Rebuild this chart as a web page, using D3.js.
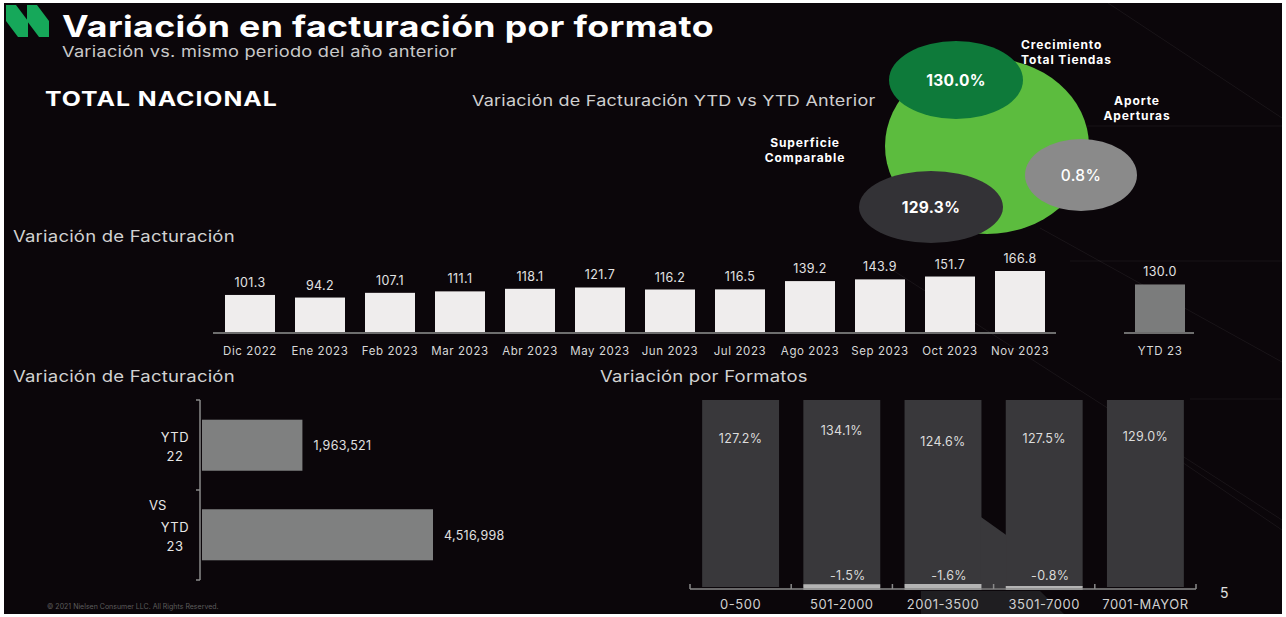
<!DOCTYPE html>
<html lang="es">
<head>
<meta charset="UTF-8">
<title>Variación en facturación por formato</title>
<script src="https://d3js.org/d3.v7.min.js"></script>
<style>
  html, body { margin: 0; padding: 0; background: #ffffff; }
  svg { display: block; font-family: "Inter", "Open Sans", sans-serif; }
</style>
</head>
<body>
<svg id="chart" width="1286" height="617"></svg>
<script>
// ---- data ----
const months = ["Dic 2022", "Ene 2023", "Feb 2023", "Mar 2023", "Abr 2023", "May 2023",
                "Jun 2023", "Jul 2023", "Ago 2023", "Sep 2023", "Oct 2023", "Nov 2023"];
const monthValues = [101.3, 94.2, 107.1, 111.1, 118.1, 121.7, 116.2, 116.5, 139.2, 143.9, 151.7, 166.8];
const ytdLabel = "YTD 23";
const ytdValue = 130.0;

const bubbleNames = [["Crecimiento", "Total Tiendas"], ["Superficie", "Comparable"], ["Aporte", "Aperturas"]];
const bubbleValues = [130.0, 129.3, 0.8];

const ytdCats = ["YTD 22", "YTD 23"];
const ytdSales = [1963521, 4516998];

const formats = ["0-500", "501-2000", "2001-3500", "3501-7000", "7001-MAYOR"];
const formatGrowth = [127.2, 134.1, 124.6, 127.5, 129.0];
const formatApertura = [null, -1.5, -1.6, -0.8, null];

const svg = d3.select("#chart");

// headings: the slide font is wider than Inter, so widen the glyphs to the slide's width
function heading(x, y, txt, size, weight, fill, width, spacing) {
  const t = svg.append("text").attr("fill", fill)
    .attr("font-size", size).attr("font-weight", weight)
    .attr("letter-spacing", spacing || 0).text(txt);
  const w = t.node().getComputedTextLength();
  t.attr("transform", `translate(${x},${y}) scale(${width / w},1)`);
  return t;
}

// slide background
svg.append("rect").attr("x", 4).attr("y", 3).attr("width", 1278).attr("height", 611).attr("fill", "#0b060a");

// faint decorative lines
const deco = svg.append("g").attr("stroke", "#ffffff").attr("stroke-opacity", 0.06).attr("stroke-width", 1);
[[1108, 3, 1282, 118], [1040, 228, 1282, 362], [880, 262, 1282, 520], [1120, 420, 1282, 530],
 [1060, 126, 1282, 126], [1070, 261, 1282, 261], [1190, 399, 1282, 399]].forEach(l => {
  deco.append("line").attr("x1", l[0]).attr("y1", l[1]).attr("x2", l[2]).attr("y2", l[3]);
});

// logo
const logo = svg.append("g").attr("fill", "#16a85a");
logo.append("polygon").attr("points", "6,5 16,5 28,21 28,37 18,37 6,21");
logo.append("polygon").attr("points", "27,5 37,5 49,21 49,37 39,37 27,21");

// titles
heading(62, 37, "Variación en facturación por formato", 29.5, 700, "#ffffff", 652, 0.3);
heading(62, 57, "Variación vs. mismo periodo del año anterior", 15, 400, "#c9c9c9", 395, 0.2);
heading(45, 106, "TOTAL NACIONAL", 20, 700, "#ffffff", 233, 0.8);
heading(472, 106, "Variación de Facturación YTD vs YTD Anterior", 15, 400, "#cfcfcf", 404, 0.2);

// ---- bubbles ----
const bub = svg.append("g");
bub.append("ellipse").attr("cx", 987).attr("cy", 146).attr("rx", 102).attr("ry", 88).attr("fill", "#5cbc3e");
const bubbleShapes = [
  { cx: 956, cy: 80, rx: 67, ry: 39, fill: "#0e7a3a" },
  { cx: 931, cy: 207, rx: 72, ry: 36, fill: "#333236" },
  { cx: 1081, cy: 175, rx: 56, ry: 36, fill: "#8a8a8a" }
];
bub.selectAll("ellipse.b").data(bubbleValues).join("ellipse").attr("class", "b")
  .attr("cx", (d, i) => bubbleShapes[i].cx).attr("cy", (d, i) => bubbleShapes[i].cy)
  .attr("rx", (d, i) => bubbleShapes[i].rx).attr("ry", (d, i) => bubbleShapes[i].ry)
  .attr("fill", (d, i) => bubbleShapes[i].fill);
bub.selectAll("text.v").data(bubbleValues).join("text").attr("class", "v")
  .attr("x", (d, i) => bubbleShapes[i].cx).attr("y", (d, i) => bubbleShapes[i].cy + 6)
  .attr("text-anchor", "middle").attr("fill", "#ffffff")
  .attr("font-size", 15.5).attr("font-weight", (d, i) => i === 2 ? 500 : 700)
  .attr("letter-spacing", 0.3)
  .text(d => d.toFixed(1) + "%");
const nameSpots = [
  { x: 1021, y: 49, anchor: "start" },
  { x: 805, y: 147, anchor: "middle" },
  { x: 1137, y: 105, anchor: "middle" }
];
bubbleNames.forEach((words, i) => {
  const t = svg.append("text").attr("x", nameSpots[i].x).attr("y", nameSpots[i].y)
    .attr("text-anchor", nameSpots[i].anchor).attr("fill", "#ffffff")
    .attr("font-size", 12).attr("font-weight", 700).attr("letter-spacing", 0.9);
  words.forEach((w, j) => t.append("tspan").attr("x", nameSpots[i].x).attr("dy", j ? 15 : 0).text(w));
});

// ---- monthly bars ----
heading(13, 242, "Variación de Facturación", 16, 400, "#d2d2d2", 222, 0.2);

const slots = months.concat([" ", ytdLabel]);
const xm = d3.scalePoint().domain(slots).range([250, 1160]);
const ym = d3.scaleLinear().domain([0, 166.8]).range([332, 271]);
const barW = 50;
const monthly = months.map((m, i) => ({ m, v: monthValues[i], ytd: false }))
  .concat([{ m: ytdLabel, v: ytdValue, ytd: true }]);

const gm = svg.append("g");
gm.selectAll("rect").data(monthly).join("rect")
  .attr("x", d => xm(d.m) - barW / 2).attr("y", d => ym(d.v))
  .attr("width", barW).attr("height", d => ym(0) - ym(d.v))
  .attr("fill", d => d.ytd ? "#7b7c7c" : "#efeded");
gm.selectAll("text.val").data(monthly).join("text").attr("class", "val")
  .attr("x", d => xm(d.m)).attr("y", d => ym(d.v) - 8)
  .attr("text-anchor", "middle").attr("fill", "#e2e2e2").attr("font-size", 12.5)
  .attr("letter-spacing", 0.4)
  .text(d => d.v.toFixed(1));
gm.selectAll("text.cat").data(monthly).join("text").attr("class", "cat")
  .attr("x", d => xm(d.m)).attr("y", 355)
  .attr("text-anchor", "middle").attr("fill", "#d8d8d8").attr("font-size", 11.5)
  .attr("letter-spacing", 0.6)
  .text(d => d.m);
gm.append("line").attr("x1", xm(months[0]) - 37).attr("x2", xm(months[11]) + 36)
  .attr("y1", ym(0) + 1).attr("y2", ym(0) + 1).attr("stroke", "#6e6e6e").attr("stroke-width", 2);
gm.append("line").attr("x1", xm(ytdLabel) - 36).attr("x2", xm(ytdLabel) + 34)
  .attr("y1", ym(0) + 1).attr("y2", ym(0) + 1).attr("stroke", "#6e6e6e").attr("stroke-width", 2);

// ---- YTD horizontal bars ----
heading(13, 382, "Variación de Facturación", 16, 400, "#d2d2d2", 222, 0.2);

const yh = d3.scaleBand().domain(ytdCats).range([400, 580]).paddingInner(0.43).paddingOuter(0.22);
const xh = d3.scaleLinear().domain([0, d3.max(ytdSales)]).range([202, 433]);
const gh = svg.append("g");
gh.selectAll("rect").data(ytdCats).join("rect")
  .attr("x", xh(0)).attr("y", d => yh(d))
  .attr("width", (d, i) => xh(ytdSales[i]) - xh(0)).attr("height", yh.bandwidth())
  .attr("fill", "#7f8080");
gh.selectAll("text.val").data(ytdCats).join("text").attr("class", "val")
  .attr("x", (d, i) => xh(ytdSales[i]) + 11).attr("y", d => yh(d) + yh.bandwidth() / 2 + 5)
  .attr("fill", "#e0e0e0").attr("font-size", 12.5).attr("letter-spacing", 0.3)
  .text((d, i) => d3.format(",")(ytdSales[i]));
ytdCats.forEach(c => {
  const t = gh.append("text").attr("x", 175).attr("y", yh(c) + yh.bandwidth() / 2 - 3)
    .attr("text-anchor", "middle").attr("fill", "#e6e6e6").attr("font-size", 13).attr("letter-spacing", 0.6);
  c.split(" ").forEach((w, j) => t.append("tspan").attr("x", 175).attr("dy", j ? 19 : 0).text(w));
});
gh.append("text").attr("x", 149).attr("y", 510).attr("fill", "#e6e6e6").attr("font-size", 13).text("VS");
const axX = 200;
gh.append("line").attr("x1", axX).attr("x2", axX).attr("y1", 400).attr("y2", 580)
  .attr("stroke", "#8a8a8a").attr("stroke-width", 1.5);
[400, 490, 580].forEach(y => gh.append("line").attr("x1", axX - 4).attr("x2", axX).attr("y1", y).attr("y2", y)
  .attr("stroke", "#8a8a8a").attr("stroke-width", 1.5));

svg.append("text").attr("x", 47).attr("y", 609).attr("fill", "#5d5d5d").attr("font-size", 7)
  .text("© 2021 Nielsen Consumer LLC. All Rights Reserved.");

// ---- formats ----
heading(600, 382, "Variación por Formatos", 16, 400, "#d2d2d2", 208, 0.2);

// background slide shape under the axis
svg.append("polygon").attr("fill", "#1f1e21").attr("points", "921,591 1040,591 1064,614 921,614");

const xf = d3.scaleBand().domain(formats).range([690, 1196]).paddingInner(0.24).paddingOuter(0.12);
const yf = d3.scaleLinear().domain([0, 161]).range([587, 400]);
const gf = svg.append("g");
// columns (tracks)
gf.selectAll("rect.col").data(formats).join("rect").attr("class", "col")
  .attr("x", d => xf(d)).attr("y", yf(161)).attr("width", xf.bandwidth())
  .attr("height", yf(0) - yf(161)).attr("fill", "#39383b");
// slide decoration joining two columns
const x3 = xf(formats[2]) + xf.bandwidth(), x4 = xf(formats[3]);
gf.append("polygon").attr("fill", "#39383b")
  .attr("points", `${x3 - 0.5},517 ${x4 + 0.5},535 ${x4 + 0.5},588 ${x3 - 0.5},588`);

gf.selectAll("text.val").data(formats).join("text").attr("class", "val")
  .attr("x", d => xf(d) + xf.bandwidth() / 2).attr("y", (d, i) => yf(formatGrowth[i]) + 4)
  .attr("text-anchor", "middle").attr("fill", "#dcdcdc").attr("font-size", 12.5).attr("letter-spacing", 0.3)
  .text((d, i) => formatGrowth[i].toFixed(1) + "%");

const thick = d3.scaleLinear().domain([0, 1.6]).range([0, 4]);
const neg = formats.map((f, i) => ({ f, v: formatApertura[i] })).filter(d => d.v !== null);
gf.selectAll("rect.neg").data(neg).join("rect").attr("class", "neg")
  .attr("x", d => xf(d.f)).attr("y", d => 588 - thick(-d.v))
  .attr("width", xf.bandwidth()).attr("height", d => thick(-d.v) + 2).attr("fill", "#b4b4b4");
gf.selectAll("text.neg").data(neg).join("text").attr("class", "neg")
  .attr("x", d => xf(d.f) + xf.bandwidth() / 2 + 6).attr("y", 580)
  .attr("text-anchor", "middle").attr("fill", "#d8d8d8").attr("font-size", 12.5).attr("letter-spacing", 0.3)
  .text(d => d.v.toFixed(1) + "%");

gf.append("line").attr("x1", 690).attr("x2", 1196).attr("y1", 589).attr("y2", 589)
  .attr("stroke", "#8a8a8a").attr("stroke-width", 1.5);
const tickXs = [690].concat(formats.slice(1).map(f => xf(f) - xf.step() * xf.paddingInner() / 2), [1196]);
gf.selectAll("line.tick").data(tickXs).join("line").attr("class", "tick")
  .attr("x1", d => d).attr("x2", d => d).attr("y1", 584).attr("y2", 589)
  .attr("stroke", "#8a8a8a").attr("stroke-width", 1.5);
gf.selectAll("text.cat").data(formats).join("text").attr("class", "cat")
  .attr("x", d => xf(d) + xf.bandwidth() / 2).attr("y", 609)
  .attr("text-anchor", "middle").attr("fill", "#d0d0d0").attr("font-size", 13)
  .attr("letter-spacing", 0.5).text(d => d);

svg.append("text").attr("x", 1220).attr("y", 598).attr("fill", "#e0e0e0").attr("font-size", 14).text("5");
</script>
</body>
</html>
